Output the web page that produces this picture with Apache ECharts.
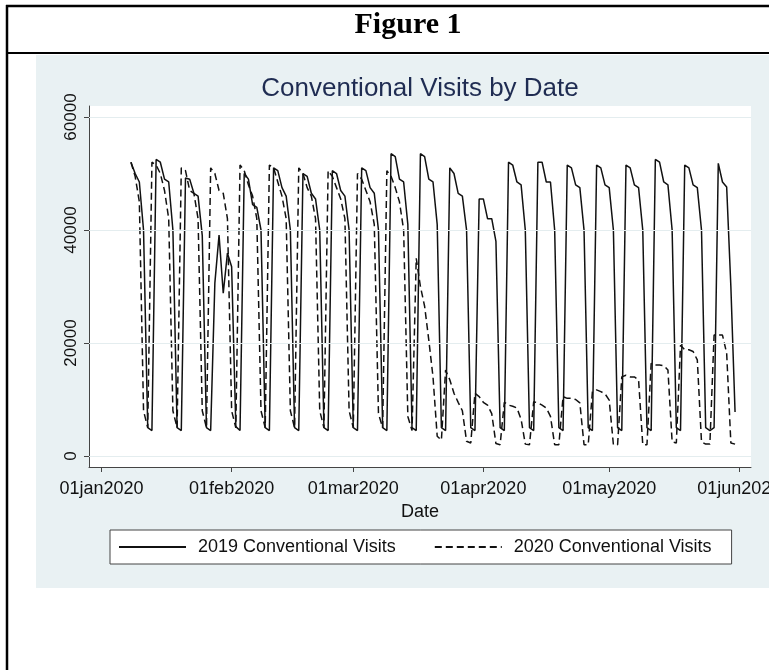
<!DOCTYPE html>
<html>
<head>
<meta charset="utf-8">
<script src="https://cdn.jsdelivr.net/npm/echarts@6/dist/echarts.min.js"></script>
<style>
  html, body { margin: 0; padding: 0; background: #fff; }
  #chart-container { width: 769px; height: 670px; }
</style>
</head>
<body>
<div id="chart-container"></div>
<script>
// days are counted from 01jan2020; first observation is 08jan2020
const firstDay = 7;
const tickDays = [0, 31, 60, 91, 121, 152];
const tickLabels = ['01jan2020', '01feb2020', '01mar2020', '01apr2020', '01may2020', '01jun2020'];
const yTicks = [0, 20000, 40000, 60000];

// 2019 visits, laid out Mon..Sun by 2020 calendar weeks (first row starts Wed 08jan)
const visits2019 = [
  52000, 50000, 48500, 40000, 5000,
  4500, 52500, 52000, 49000, 48500, 40000, 5000,
  4500, 49200, 49000, 46500, 46000, 39000, 5000,
  4500, 30600, 39100, 28800, 35900, 33500, 5200,
  4500, 50000, 49000, 44500, 44000, 40000, 5000,
  4500, 51000, 50500, 47500, 46000, 40000, 5000,
  4500, 50000, 49500, 46500, 45500, 40000, 5000,
  4500, 50500, 50000, 47000, 46000, 40000, 5000,
  4500, 51000, 50500, 47500, 46500, 40000, 5000,
  4500, 53500, 53000, 49000, 48500, 41000, 5000,
  4500, 53500, 53000, 49000, 48500, 41000, 5000,
  4500, 51000, 50000, 46500, 46000, 40000, 5000,
  4500, 45500, 45500, 42000, 42000, 38000, 5000,
  4500, 52000, 51500, 48500, 48000, 40000, 5000,
  4500, 52000, 52000, 48500, 48500, 40000, 5000,
  4500, 51500, 51000, 48000, 47500, 40000, 5000,
  4500, 51500, 51000, 48000, 47500, 40000, 5000,
  4500, 51500, 51000, 48000, 47500, 40000, 5000,
  4500, 52500, 52000, 48500, 48000, 40000, 5000,
  4500, 51500, 51000, 48000, 47500, 40000, 5000,
  4500, 5000, 51800, 48500, 47600, 30000, 7800
];

// 2020 visits, same layout
const visits2020 = [
  52000, 49500, 45000, 8000, 5000,
  52000, 51500, 50000, 47000, 42000, 8000, 5000,
  51000, 50500, 47000, 46500, 42000, 8000, 5000,
  51000, 50000, 47000, 46500, 42000, 8000, 5000,
  51500, 50500, 48000, 46000, 42000, 8000, 5000,
  51500, 51000, 48500, 46000, 42000, 8000, 5000,
  51000, 50000, 47500, 46000, 42000, 8000, 5000,
  50500, 49500, 47500, 45500, 42000, 8000, 5000,
  50000, 49000, 47000, 45000, 41000, 7500, 5000,
  50500, 49500, 47500, 45000, 40000, 7000, 4500,
  35000, 30000, 26500, 20500, 14000, 3500, 2800,
  15200, 13500, 11100, 9500, 8000, 2600, 2300,
  11100, 10500, 9500, 9000, 7500, 2200, 2000,
  9500, 9000, 8800, 8500, 6500, 2100, 2000,
  9600, 9400, 9000, 8500, 7000, 2000, 2000,
  10500, 10200, 10200, 10000, 9400, 2000, 2000,
  11400, 11700, 11400, 11000, 9900, 2000, 2000,
  14000, 14300, 14000, 14000, 13500, 2000, 2000,
  16400, 16100, 16100, 16000, 15200, 2500, 2300,
  19600, 18800, 18800, 18500, 17000, 2500, 2100,
  2100, 21400, 21400, 21400, 18200, 2300, 2100
];

var dom = document.getElementById('chart-container');
var myChart = echarts.init(dom, null, { renderer: 'canvas', useDirtyRect: false });

const toPoints = arr => arr.map((v, i) => [firstDay + i, v]);
const sans = 'Liberation Sans';

var option = {
  animation: false,
  backgroundColor: '#fff',
  graphic: [
    // light panel behind the Stata graph
    { type: 'rect', z: -10, shape: { x: 36, y: 55, width: 740, height: 533 }, style: { fill: '#e9f1f3' } },
    // table borders
    { type: 'line', shape: { x1: 6, y1: 6, x2: 769, y2: 6 }, style: { stroke: '#000', lineWidth: 2.5 } },
    { type: 'line', shape: { x1: 7, y1: 5, x2: 7, y2: 670 }, style: { stroke: '#000', lineWidth: 2.5 } },
    { type: 'line', shape: { x1: 6, y1: 53, x2: 769, y2: 53 }, style: { stroke: '#000', lineWidth: 2 } }
  ],
  title: [
    {
      text: 'Figure 1', left: 408, top: 10, padding: 0, textAlign: 'center',
      textStyle: { fontFamily: 'Liberation Serif', fontWeight: 'bold', fontSize: 30, color: '#000' }
    },
    {
      text: 'Conventional Visits by Date', left: 420, top: 76, padding: 0, textAlign: 'center',
      textStyle: { fontFamily: sans, fontWeight: 'normal', fontSize: 26, color: '#1f2c52' }
    }
  ],
  grid: {
    left: 89, top: 106, width: 662, height: 361,
    outerBoundsMode: 'none',
    show: true, backgroundColor: '#fff', borderWidth: 0
  },
  xAxis: {
    type: 'value', min: -3, max: 154.8,
    name: 'Date', nameLocation: 'middle', nameGap: 32,
    nameTextStyle: { fontFamily: sans, fontSize: 18, color: '#111' },
    axisLine: { onZero: false, lineStyle: { color: '#444', width: 1 } },
    axisTick: { show: true, length: 5, customValues: tickDays, lineStyle: { color: '#444' } },
    axisLabel: {
      customValues: tickDays, margin: 13,
      fontFamily: sans, fontSize: 18, color: '#111',
      formatter: v => tickLabels[tickDays.indexOf(v)]
    },
    splitLine: { show: false }
  },
  yAxis: {
    type: 'value', min: -1950, max: 61950,
    axisLine: { show: true, onZero: false, lineStyle: { color: '#444', width: 1 } },
    axisTick: { show: true, length: 5, customValues: yTicks, lineStyle: { color: '#444' } },
    axisLabel: {
      customValues: yTicks, rotate: 90, margin: 9,
      fontFamily: sans, fontSize: 17, color: '#111',
      formatter: v => String(v)
    },
    splitLine: { show: false }
  },
  legend: {
    left: 110, top: 530,
    itemWidth: 67, itemHeight: 14, itemGap: 38,
    padding: [8, 20, 8, 8],
    borderColor: '#444', borderWidth: 1, backgroundColor: '#fff',
    itemStyle: { opacity: 0 },
    textStyle: { fontFamily: sans, fontSize: 18, color: '#111', padding: [0, 0, 0, 7] },
    data: ['2019 Conventional Visits', '2020 Conventional Visits']
  },
  series: [
    {
      name: '2019 Conventional Visits', type: 'line', symbol: 'none',
      data: toPoints(visits2019),
      lineStyle: { color: '#111', width: 1.5 },
      itemStyle: { color: '#111' },
      markLine: {
        silent: true, symbol: 'none', label: { show: false },
        lineStyle: { color: '#e4edef', width: 1, type: 'solid' },
        data: yTicks.map(v => ({ yAxis: v }))
      },
      z: 3
    },
    {
      name: '2020 Conventional Visits', type: 'line', symbol: 'none',
      data: toPoints(visits2020),
      lineStyle: { color: '#111', width: 1.5, type: [7, 4] },
      itemStyle: { color: '#111' },
      z: 2
    }
  ]
};

if (option && typeof option === 'object') {
  myChart.setOption(option);
}

window.addEventListener('resize', myChart.resize);
</script>
</body>
</html>
